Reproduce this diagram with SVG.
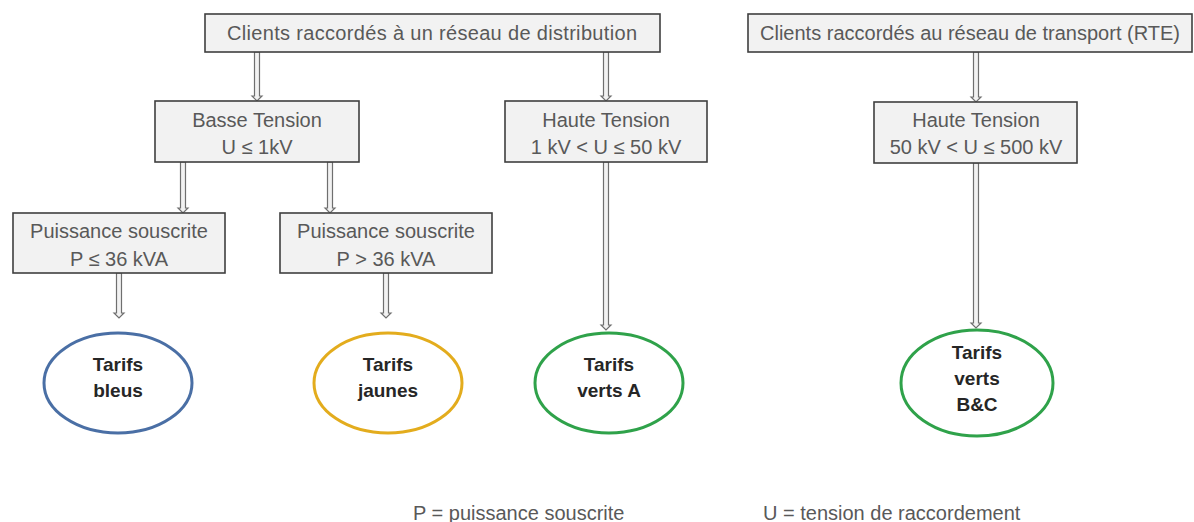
<svg xmlns="http://www.w3.org/2000/svg" width="1194" height="522" viewBox="0 0 1194 522">
<defs>
<style>
.box{fill:#f2f2f2;stroke:#3f3f3f;stroke-width:1.6}
.t{font-family:"Liberation Sans",Arial,sans-serif;font-size:20px;fill:#595959;text-anchor:middle}
.tb{font-family:"Liberation Sans",Arial,sans-serif;font-size:19px;font-weight:bold;fill:#262626;text-anchor:middle}
.arr{fill:#f2f2f2;stroke:#6f6f6f;stroke-width:1.2;stroke-linejoin:miter}
.ell{fill:#ffffff;stroke-width:3}
.leg{font-family:"Liberation Sans",Arial,sans-serif;font-size:20px;fill:#595959}
</style>
</defs>
<rect width="1194" height="522" fill="#ffffff"/>
<g id="connectors">
<path class="arr" d="M254.5,52 V96 H252 L257,101 L262,96 H259.5 V52 Z"/>
<path class="arr" d="M603.5,52 V96 H601 L606,101 L611,96 H608.5 V52 Z"/>
<path class="arr" d="M973.5,52 V97 H971 L976,102 L981,97 H978.5 V52 Z"/>
<path class="arr" d="M180.5,162 V208 H178 L183,213 L188,208 H185.5 V162 Z"/>
<path class="arr" d="M327.5,162 V208 H325 L330,213 L335,208 H332.5 V162 Z"/>
<path class="arr" d="M116.5,273 V313 H114 L119,318 L124,313 H121.5 V273 Z"/>
<path class="arr" d="M383.5,273 V313 H381 L386,318 L391,313 H388.5 V273 Z"/>
<path class="arr" d="M603.5,162 V325 H601 L606,330 L611,325 H608.5 V162 Z"/>
<path class="arr" d="M973.5,163 V323 H971 L976,328 L981,323 H978.5 V163 Z"/>
</g>
<g id="n-distribution">
<rect class="box" x="205" y="14" width="455" height="38"/>
<text class="t" x="432" y="40" textLength="410" lengthAdjust="spacing">Clients raccordés à un réseau de distribution</text>
</g>
<g id="n-transport">
<rect class="box" x="748" y="14" width="444" height="38"/>
<text class="t" x="970" y="40" textLength="420" lengthAdjust="spacing">Clients raccordés au réseau de transport (RTE)</text>
</g>
<g id="n-basse">
<rect class="box" x="155" y="101" width="204" height="61"/>
<text class="t" x="257" y="127">Basse Tension</text>
<text class="t" x="257" y="154">U ≤ 1kV</text>
</g>
<g id="n-haute1">
<rect class="box" x="505" y="101" width="202" height="61"/>
<text class="t" x="606" y="127">Haute Tension</text>
<text class="t" x="606" y="154">1 kV &lt; U ≤ 50 kV</text>
</g>
<g id="n-haute2">
<rect class="box" x="874" y="102" width="203" height="61"/>
<text class="t" x="976" y="127">Haute Tension</text>
<text class="t" x="976" y="154">50 kV &lt; U ≤ 500 kV</text>
</g>
<g id="n-p1">
<rect class="box" x="13" y="213" width="212" height="60"/>
<text class="t" x="119" y="238">Puissance souscrite</text>
<text class="t" x="119" y="266">P ≤ 36 kVA</text>
</g>
<g id="n-p2">
<rect class="box" x="280" y="213" width="212" height="60"/>
<text class="t" x="386" y="238">Puissance souscrite</text>
<text class="t" x="386" y="266">P &gt; 36 kVA</text>
</g>
<g id="n-bleus">
<ellipse class="ell" cx="118" cy="383" rx="74" ry="50" stroke="#4a6fa5"/>
<text class="tb" x="118" y="371">Tarifs</text>
<text class="tb" x="118" y="397">bleus</text>
</g>
<g id="n-jaunes">
<ellipse class="ell" cx="388" cy="383" rx="74" ry="50" stroke="#e3ac1d"/>
<text class="tb" x="388" y="371">Tarifs</text>
<text class="tb" x="388" y="397">jaunes</text>
</g>
<g id="n-vertsA">
<ellipse class="ell" cx="609" cy="383" rx="74" ry="50" stroke="#2fa24a"/>
<text class="tb" x="609" y="371">Tarifs</text>
<text class="tb" x="609" y="397">verts A</text>
</g>
<g id="n-vertsBC">
<ellipse class="ell" cx="977" cy="383" rx="76" ry="53" stroke="#2fa24a"/>
<text class="tb" x="977" y="359">Tarifs</text>
<text class="tb" x="977" y="385">verts</text>
<text class="tb" x="977" y="411">B&amp;C</text>
</g>
<g id="legend">
<text class="leg" x="413" y="520">P = puissance souscrite</text>
<text class="leg" x="763" y="520">U = tension de raccordement</text>
</g>
</svg>
